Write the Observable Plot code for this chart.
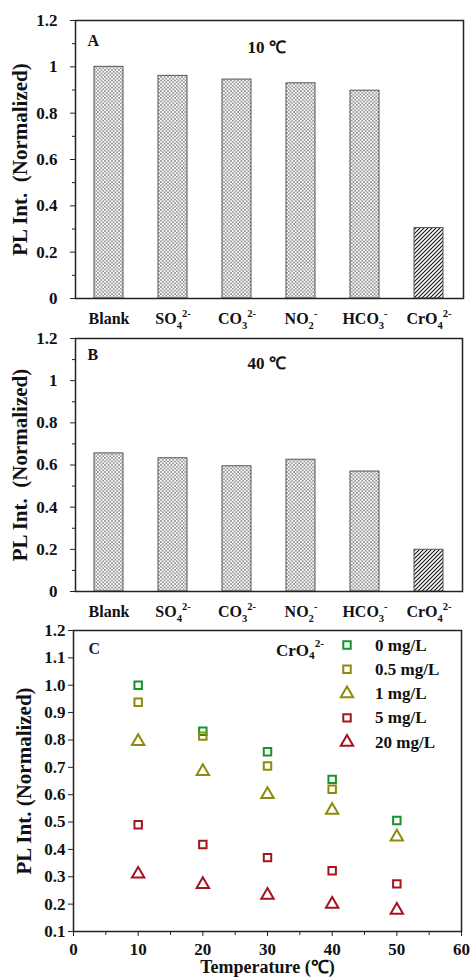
<!DOCTYPE html>
<html><head><meta charset="utf-8">
<script src="https://cdn.jsdelivr.net/npm/d3@7"></script>
<script src="https://cdn.jsdelivr.net/npm/@observablehq/plot@0.6"></script>
<style>
body{margin:0;background:#fff;}
#wrap{position:relative;width:471px;height:979px;overflow:hidden;background:#fff;}
#wrap > svg{position:absolute;left:0;}
</style></head><body>
<div id="wrap">
<svg width="0" height="0" style="position:absolute;left:0;top:0">
<defs>
<pattern id="cross" patternUnits="userSpaceOnUse" width="3.5" height="3.5">
<rect width="3.5" height="3.5" fill="#fff"/>
<path d="M0,0L3.5,3.5M3.5,0L0,3.5" stroke="#666" stroke-width="0.6"/>
</pattern>
<pattern id="diag" patternUnits="userSpaceOnUse" width="4" height="4">
<rect width="4" height="4" fill="#fff"/>
<path d="M-1,1L1,-1M0,4L4,0M3,5L5,3" stroke="#111" stroke-width="1.1"/>
</pattern>
</defs>
</svg>
</div>
<script>
// ---------- data ----------
const anions = ["Blank", "SO₄²⁻", "CO₃²⁻", "NO₂⁻", "HCO₃⁻", "CrO₄²⁻"];
const plA = [1.0, 0.961, 0.945, 0.929, 0.897, 0.304];   // 10 ℃
const plB = [0.655, 0.632, 0.594, 0.625, 0.569, 0.198]; // 40 ℃
const yTicksAB = [0, 0.2, 0.4, 0.6, 0.8, 1, 1.2];
const yTickLabelsAB = ["0", "0.2", "0.4", "0.6", "0.8", "1", "1.2"];
const yMinorAB = [0.1, 0.3, 0.5, 0.7, 0.9, 1.1];

const temps = [10, 20, 30, 40, 50];
const concLabels = ["0 mg/L", "0.5 mg/L", "1 mg/L", "5 mg/L", "20 mg/L"];
const pl0mg  = [1.0, 0.832, 0.757, 0.656, 0.506];
const pl05mg = [0.938, 0.814, 0.705, 0.62, null];
const pl1mg  = [0.795, 0.685, 0.601, 0.543, 0.446];
const pl5mg  = [0.49, 0.418, 0.37, 0.322, 0.274];
const pl20mg = [0.31, 0.272, 0.233, 0.2, 0.178];
const concSymbols = ["square", "square", "triangle", "square", "triangle"];
const concColors = ["#17942a", "#8f8a0b", "#8f8a0b", "#a3141c", "#a3141c"];
const xTicksC = [0, 10, 20, 30, 40, 50, 60];
const xTickLabelsC = ["0", "10", "20", "30", "40", "50", "60"];
const xMinorC = [5, 15, 25, 35, 45, 55];
const yTicksC = [0.1, 0.2, 0.3, 0.4, 0.5, 0.6, 0.7, 0.8, 0.9, 1.0, 1.1, 1.2];
const yTickLabelsC = ["0.1", "0.2", "0.3", "0.4", "0.5", "0.6", "0.7", "0.8", "0.9", "1.0", "1.1", "1.2"];

// ---------- helpers ----------
const FONT = "'Liberation Serif', 'Times New Roman', Times, serif";
const SUB = {"₀":"0","₁":"1","₂":"2","₃":"3","₄":"4","₅":"5","₆":"6","₇":"7","₈":"8","₉":"9"};
const SUP = {"²":"2","³":"3","¹":"1","⁻":"-","⁺":"+"};
function chemify(textEl, base) {
  const s = textEl.textContent;
  if (![...s].some(c => SUB[c] || SUP[c])) return;
  const sel = d3.select(textEl);
  sel.text("");
  const runs = [];
  for (const c of s) {
    const type = SUB[c] ? "sub" : SUP[c] ? "sup" : "n";
    const ch = SUB[c] || SUP[c] || c;
    if (runs.length && runs[runs.length - 1].type === type) runs[runs.length - 1].t += ch;
    else runs.push({type, t: ch});
  }
  let off = 0;
  for (const r of runs) {
    const target = r.type === "sub" ? base * 0.3 : r.type === "sup" ? -base * 0.42 : 0;
    const ts = sel.append("tspan").attr("dy", target - off).text(r.t);
    if (r.type !== "n") ts.attr("font-size", base * 0.66);
    off = target;
  }
}
const wrap = document.getElementById("wrap");

function barPanel(values, panelLabel, tempLabel, top, o) {
  const data = anions.map((a, i) => ({anion: a, v: values[i]}));
  const svg = Plot.plot({
    width: 471, height: o.height,
    marginLeft: 75, marginRight: o.mr, marginTop: o.mt, marginBottom: o.mb,
    style: {fontFamily: FONT, fontWeight: "bold", fontSize: "17px", overflow: "visible", background: "transparent", color: "#111"},
    x: {domain: anions, paddingInner: 0.54, paddingOuter: 0.255, axis: null},
    y: {domain: [0, 1.2], axis: null},
    marks: [
      Plot.barY(data.filter(d => d.anion !== "CrO₄²⁻"), {x: "anion", y: "v", fill: "url(#cross)", stroke: "#555", strokeWidth: 1}),
      Plot.barY(data.filter(d => d.anion === "CrO₄²⁻"), {x: "anion", y: "v", fill: "url(#diag)", stroke: "#555", strokeWidth: 1}),
      Plot.axisY({ticks: yTicksAB, tickFormat: d => yTickLabelsAB[yTicksAB.indexOf(d)], tickSize: 5, tickPadding: 13, fontSize: 17, fontWeight: "bold", label: null, stroke: "#222"}),
      Plot.axisY({ticks: yMinorAB, tickFormat: () => "", tickSize: 3, label: null, stroke: "#222"}),
      Plot.axisX({tickSize: 0, tickPadding: 14, fontSize: 16, fontWeight: "bold", label: null}),
      Plot.frame({stroke: "#222", strokeWidth: 1.5}),
      Plot.text([panelLabel], {text: d => d, frameAnchor: "top-left", dx: 12, dy: o.labDy, textAnchor: "start", lineAnchor: "middle", fontSize: 16, fontWeight: "bold", fill: "#111"}),
      Plot.text([tempLabel], {text: d => d, frameAnchor: "top-left", dx: 172, dy: o.tempDy, textAnchor: "start", lineAnchor: "middle", fontSize: 17, fontWeight: "bold", fill: "#111"}),
      Plot.text(["PL Int.  (Normalized)"], {text: d => d, frameAnchor: "left", rotate: -90, dx: -55, textAnchor: "middle", lineAnchor: "middle", fontSize: 21, fontWeight: "bold", fill: "#111"})
    ]
  });
  svg.style.top = top + "px";
  wrap.appendChild(svg);
  d3.select(svg).selectAll("g[aria-label='x-axis tick label'] text").each(function() { chemify(this, 16); });
}

barPanel(plA, "A", "10 ℃", 0, {height: 325, mr: 8, mt: 20, mb: 27, labDy: 20, tempDy: 27});
barPanel(plB, "B", "40 ℃", 325, {height: 300, mr: 9, mt: 13, mb: 34, labDy: 16, tempDy: 25});

// ---------- panel C ----------
const seriesC = [pl0mg, pl05mg, pl1mg, pl5mg, pl20mg];
const dotMarks = seriesC.map((vals, s) => {
  const pts = temps.map((t, i) => ({t, v: vals[i]})).filter(d => d.v != null);
  return Plot.dot(pts, {x: "t", y: "v", symbol: concSymbols[s], stroke: concColors[s], fill: "none",
    strokeWidth: 2, r: concSymbols[s] === "square" ? 4.2 : 4.6});
});
const svgC = Plot.plot({
  width: 471, height: 354,
  marginLeft: 73, marginRight: 10, marginTop: 5, marginBottom: 48,
  style: {fontFamily: FONT, fontWeight: "bold", fontSize: "17px", overflow: "visible", background: "transparent", color: "#111"},
  x: {domain: [0, 60], axis: null},
  y: {domain: [0.1, 1.2], axis: null},
  marks: [
    Plot.axisX({ticks: xTicksC, tickFormat: d => xTickLabelsC[xTicksC.indexOf(d)], tickSize: 5, tickPadding: 6, fontSize: 17, fontWeight: "bold", label: null, stroke: "#222"}),
    Plot.axisX({ticks: xMinorC, tickFormat: () => "", tickSize: 4, label: null, stroke: "#222"}),
    Plot.axisY({ticks: yTicksC, tickFormat: d => yTickLabelsC[yTicksC.indexOf(d)], tickSize: 5, tickPadding: 3, fontSize: 17, fontWeight: "bold", label: null, stroke: "#222"}),
    Plot.frame({stroke: "#222", strokeWidth: 1.5}),
    ...dotMarks,
    Plot.text(["C"], {text: d => d, frameAnchor: "top-left", dx: 15, dy: 18, textAnchor: "start", lineAnchor: "middle", fontSize: 16, fontWeight: "bold", fill: "#1b1b3a"}),
    Plot.text(["PL Int. (Normalized)"], {text: d => d, frameAnchor: "left", rotate: -90, dx: -49, textAnchor: "middle", lineAnchor: "middle", fontSize: 21, fontWeight: "bold", fill: "#111"}),
    Plot.text(["Temperature (℃)"], {text: d => d, frameAnchor: "bottom", dy: 36, textAnchor: "middle", lineAnchor: "middle", fontSize: 18, fontWeight: "bold", fill: "#111"})
  ]
});
svgC.style.top = "625px";
wrap.appendChild(svgC);

// ---------- legend for panel C ----------
const leg = d3.create("svg").attr("width", 200).attr("height", 125)
  .style("left", "270px").style("top", "630px").style("overflow", "visible")
  .attr("font-family", FONT).attr("font-weight", "bold");
const head = leg.append("text").attr("x", 6).attr("y", 20).attr("font-size", 17)
  .attr("dominant-baseline", "central").attr("fill", "#111").text("CrO₄²⁻");
chemify(head.node(), 17);
concLabels.forEach((lab, i) => {
  const cy = 15 + i * 24.3;
  const r = concSymbols[i] === "square" ? 4.2 : 4.6;
  leg.append("path")
    .attr("d", d3.symbol(concSymbols[i] === "square" ? d3.symbolSquare : d3.symbolTriangle, r * r * Math.PI)())
    .attr("transform", `translate(77,${cy})`)
    .attr("fill", "none").attr("stroke", concColors[i]).attr("stroke-width", 2);
  leg.append("text").attr("x", 105).attr("y", cy).attr("dominant-baseline", "central")
    .attr("font-size", 17).attr("fill", "#111").text(lab);
});
wrap.appendChild(leg.node());
</script>
</body></html>
